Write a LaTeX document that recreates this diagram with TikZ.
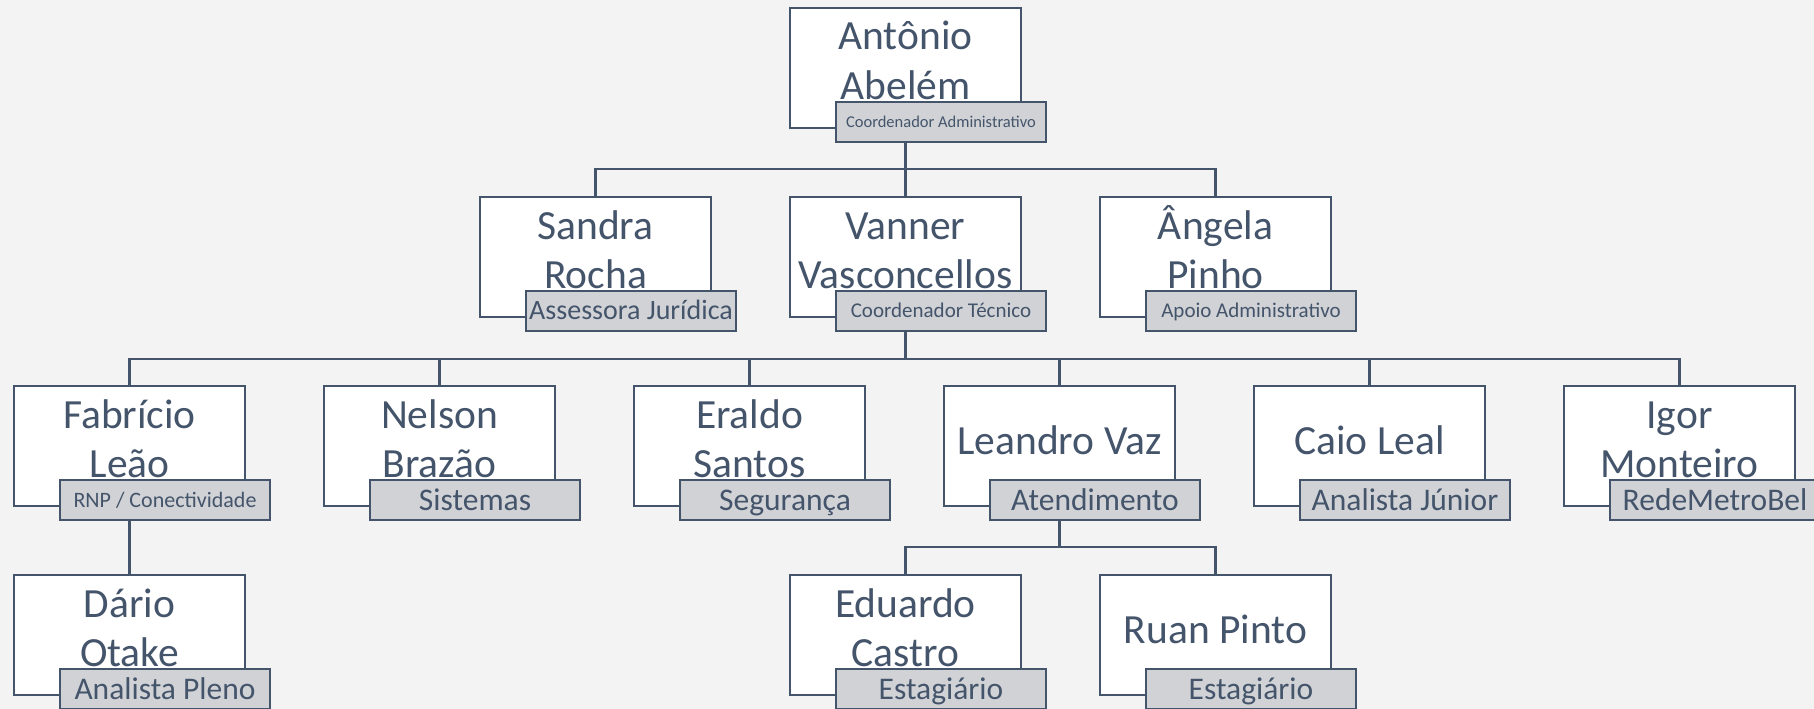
\documentclass[tikz,border=0pt]{standalone}
\usepackage{fontspec}
\setmainfont{Carlito}
\definecolor{ink}{HTML}{44546A}
\definecolor{tagfill}{HTML}{D0D2D6}
\definecolor{bgc}{HTML}{F3F3F3}
\tikzset{
  card/.style={draw=ink, line width=2.6pt, fill=white, minimum width=231pt, minimum height=120pt, inner sep=0pt, outer sep=0pt, anchor=north west},
  tag/.style 2 args={draw=ink, line width=2.6pt, fill=tagfill, minimum width=210pt, minimum height=40pt, inner sep=0pt, outer sep=0pt, anchor=north west, text=ink, text height=#2, text depth=0pt, font=\fontsize{#1}{#1}\selectfont},
  nm/.style={anchor=base, text=ink, inner sep=0pt, font=\fontsize{41.5}{49}\selectfont},
  conn/.style={draw=ink, line width=2.8pt}
}
\begin{document}
\begin{tikzpicture}[x=1pt,y=-1pt]
\fill[bgc] (0,0) rectangle (1814,709);
\useasboundingbox (0,0) rectangle (1814,709);
% Row 1
\node[card] (A) at (790,8) {};
\node[nm] (A1) at (905.5,50) {Antônio};
\node[nm] (A2) at (905.5,99) {Abelém};
\node[tag={16.5}{10.6pt}] (At) at (836,102) {Coordenador Administrativo};
% Row 2
\node[card] (S) at (480,197) {};
\node[nm] (S1) at (595.5,239) {Sandra};
\node[nm] (S2) at (595.5,288) {Rocha};
\node[tag={28}{17.9pt}] (St) at (526,291) {Assessora Jurídica};
\node[card] (V) at (790,197) {};
\node[nm] (V1) at (905.5,239) {Vanner};
\node[nm] (V2) at (905.5,288) {Vasconcellos};
\node[tag={21}{13.4pt}] (Vt) at (836,291) {Coordenador Técnico};
\node[card] (G) at (1100,197) {};
\node[nm] (G1) at (1215.5,239) {Ângela};
\node[nm] (G2) at (1215.5,288) {Pinho};
\node[tag={21}{13.4pt}] (Gt) at (1146,291) {Apoio Administrativo};
% Row 3
\node[card] (F) at (14,386) {};
\node[nm] (F1) at (129.5,428) {Fabrício};
\node[nm] (F2) at (129.5,477) {Leão};
\node[tag={22}{14.1pt}] (Ft) at (60,480) {RNP / Conectividade};
\node[card] (N) at (324,386) {};
\node[nm] (N1) at (439.5,428) {Nelson};
\node[nm] (N2) at (439.5,477) {Brazão};
\node[tag={31.5}{20.2pt}] (Nt) at (370,480) {Sistemas};
\node[card] (E) at (634,386) {};
\node[nm] (E1) at (749.5,428) {Eraldo};
\node[nm] (E2) at (749.5,477) {Santos};
\node[tag={31.5}{20.2pt}] (Et) at (680,480) {Segurança};
\node[card] (L) at (944,386) {};
\node[nm] (L1) at (1059.5,454) {Leandro Vaz};
\node[tag={31.5}{20.2pt}] (Lt) at (990,480) {Atendimento};
\node[card] (C) at (1254,386) {};
\node[nm] (C1) at (1369.5,454) {Caio Leal};
\node[tag={31.5}{20.2pt}] (Ct) at (1300,480) {Analista Júnior};
\node[card] (I) at (1564,386) {};
\node[nm] (I1) at (1679.5,428) {Igor};
\node[nm] (I2) at (1679.5,477) {Monteiro};
\node[tag={31.5}{20.2pt}] (It) at (1610,480) {RedeMetroBel};
% Row 4
\node[card] (D) at (14,575) {};
\node[nm] (D1) at (129.5,617) {Dário};
\node[nm] (D2) at (129.5,666) {Otake};
\node[tag={31.5}{20.2pt}] (Dt) at (60,669) {Analista Pleno};
\node[card] (Ed) at (790,575) {};
\node[nm] (Ed1) at (905.5,617) {Eduardo};
\node[nm] (Ed2) at (905.5,666) {Castro};
\node[tag={31.5}{20.2pt}] (Edt) at (836,669) {Estagiário};
\node[card] (R) at (1100,575) {};
\node[nm] (R1) at (1215.5,643) {Ruan Pinto};
\node[tag={31.5}{20.2pt}] (Rt) at (1146,669) {Estagiário};
% Connectors
\coordinate (j1) at (905.5,169);
\coordinate (j2) at (905.5,359);
\coordinate (j3) at (1059.5,547);
\draw[conn] (At.south -| A.center) -- (j1);
\draw[conn] (S.north) |- (j1) -| (G.north);
\draw[conn] (j1) -- (V.north);
\draw[conn] (Vt.south -| V.center) -- (j2);
\draw[conn] (F.north) |- (j2) -| (I.north);
\draw[conn] (N.north) -- (N.north |- j2);
\draw[conn] (E.north) -- (E.north |- j2);
\draw[conn] (L.north) -- (L.north |- j2);
\draw[conn] (C.north) -- (C.north |- j2);
\draw[conn] (Ft.south -| F.center) -- (D.north);
\draw[conn] (Lt.south -| L.center) -- (j3);
\draw[conn] (Ed.north) |- (j3) -| (R.north);
\end{tikzpicture}
\end{document}
